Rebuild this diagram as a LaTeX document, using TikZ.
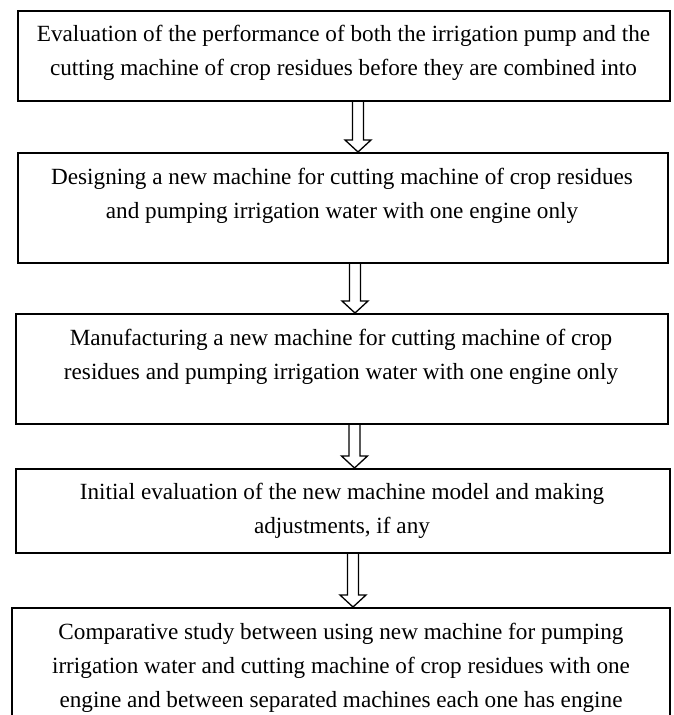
\documentclass[tikz,border=0pt]{standalone}
\usepackage{fontspec}
\setmainfont{Liberation Serif}
\usetikzlibrary{calc}
\tikzset{
  box/.style={draw=black, line width=2.2pt, anchor=north west, inner sep=0pt},
  boxtext/.style={anchor=north, align=center, inner sep=0pt, font=\fontsize{23.2}{34}\selectfont},
  hollow/.style={draw=black, line width=1.3pt, fill=white, line join=miter}
}
\newcommand{\hollowarr}[3]{%
  \coordinate (#1-#2-t) at (#1.south -| #3);
  \coordinate (#1-#2-h) at (#2.north -| #3);
  \draw[hollow] ($(#1-#2-t)+(-5.5,0)$) -- ($(#1-#2-h)+(-5.5,-12)$) -- ($(#1-#2-h)+(-13,-12)$) -- (#1-#2-h) -- ($(#1-#2-h)+(13,-12)$) -- ($(#1-#2-h)+(5.5,-12)$) -- ($(#1-#2-t)+(5.5,0)$);
}
\begin{document}
\begin{tikzpicture}[x=1pt, y=-1pt]
\useasboundingbox (0,0) rectangle (674,715);
\clip (0,0) rectangle (674,715);
\fill[white] (0,0) rectangle (674,715);

\node[box, minimum width=652pt, minimum height=90pt] (b1) at (17,10) {};
\node[box, minimum width=650pt, minimum height=110pt] (b2) at (17,152) {};
\node[box, minimum width=652pt, minimum height=110pt] (b3) at (15,313) {};
\node[box, minimum width=654pt, minimum height=84pt] (b4) at (15,468) {};
\node[box, minimum width=658pt, minimum height=140pt] (b5) at (11,607) {};

\node[boxtext] (t1) at (343.5,25) {Evaluation of the performance of both the irrigation pump and the\\cutting machine of crop residues before they are combined into};
\node[boxtext] (t2) at (342,168) {Designing a new machine for cutting machine of crop residues\\and pumping irrigation water with one engine only};
\node[boxtext] (t3) at (341,329) {Manufacturing a new machine for cutting machine of crop\\residues and pumping irrigation water with one engine only};
\node[boxtext] (t4) at (342,483) {Initial evaluation of the new machine model and making\\adjustments, if any};
\node[boxtext] (t5) at (341,623) {Comparative study between using new machine for pumping\\irrigation water and cutting machine of crop residues with one\\engine and between separated machines each one has engine};

\coordinate (x1) at (358,0);
\coordinate (x2) at (355,0);
\coordinate (x3) at (354.5,0);
\coordinate (x4) at (353,0);
\hollowarr{b1}{b2}{x1}
\hollowarr{b2}{b3}{x2}
\hollowarr{b3}{b4}{x3}
\hollowarr{b4}{b5}{x4}
\end{tikzpicture}
\end{document}
